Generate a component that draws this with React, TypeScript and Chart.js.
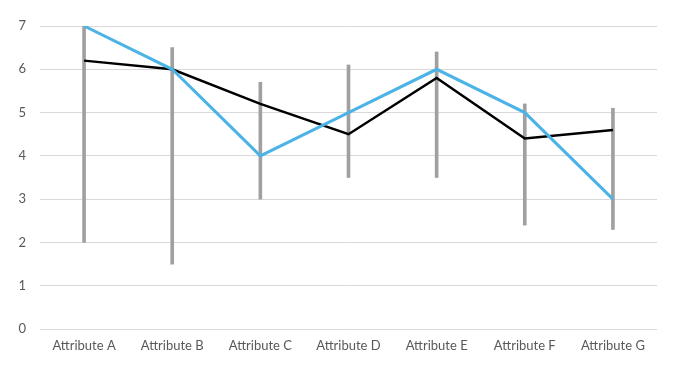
import React, { useEffect, useRef } from "react";
import { Chart, registerables } from "chart.js";

Chart.register(...registerables);

const categories = ["Attribute A", "Attribute B", "Attribute C", "Attribute D", "Attribute E", "Attribute F", "Attribute G"];
const blackSeries = [6.2, 6.0, 5.2, 4.5, 5.8, 4.4, 4.6];
const blueSeries = [7, 6, 4, 5, 6, 5, 3];
const rangeLow = [2.0, 1.5, 3.0, 3.5, 3.5, 2.4, 2.3];
const rangeHigh = [7.0, 6.5, 5.7, 6.1, 6.4, 5.2, 5.1];
const yTicks = [0, 1, 2, 3, 4, 5, 6, 7];

export default function App() {
  const ref = useRef<HTMLCanvasElement | null>(null);
  useEffect(() => {
    if (!ref.current) return;
    const chart = new Chart(ref.current, {
      type: "bar",
      data: {
        labels: categories,
        datasets: [
          {
            type: "line",
            label: "Blue",
            data: blueSeries,
            borderColor: "#4cb3e6",
            borderWidth: 3,
            pointRadius: 0,
            tension: 0,
            order: 1,
          } as any,
          {
            type: "line",
            label: "Black",
            data: blackSeries,
            borderColor: "#000000",
            borderWidth: 2.5,
            pointRadius: 0,
            tension: 0,
            order: 2,
          } as any,
          {
            type: "bar",
            label: "Range",
            data: rangeLow.map((l, i) => [l, rangeHigh[i]]),
            backgroundColor: "#a0a0a0",
            barThickness: 3,
            order: 3,
            grouped: false,
          } as any,
        ],
      },
      options: {
        animation: false,
        responsive: false,
        maintainAspectRatio: false,
        layout: { padding: { left: 0, right: 33, top: 26, bottom: 0 } },
        plugins: { legend: { display: false }, tooltip: { enabled: false } },
        scales: {
          x: {
            grid: { display: false, drawTicks: false },
            border: { display: false },
            ticks: {
              color: "#595959",
              font: { family: "Lato", size: 13 },
              padding: 9,
              maxRotation: 0,
            },
            afterFit: (s: any) => {
              s.height = 42;
            },
          },
          y: {
            min: 0,
            max: 7,
            afterBuildTicks: (s: any) => {
              s.ticks = yTicks.map((v) => ({ value: v }));
            },
            grid: { color: "#d9d9d9", lineWidth: 1, drawTicks: false },
            border: { display: false },
            ticks: {
              color: "#595959",
              font: { family: "Lato", size: 13 },
              padding: 14,
            },
            afterFit: (s: any) => {
              s.width = 40;
            },
          },
        },
      },
    });
    return () => chart.destroy();
  }, []);
  return (
    <div style={{ position: "absolute", left: 0, top: 0, width: 690, height: 371, background: "#fff" }}>
      <canvas ref={ref} width={690} height={371} style={{ width: 690, height: 371 }} />
    </div>
  );
}
